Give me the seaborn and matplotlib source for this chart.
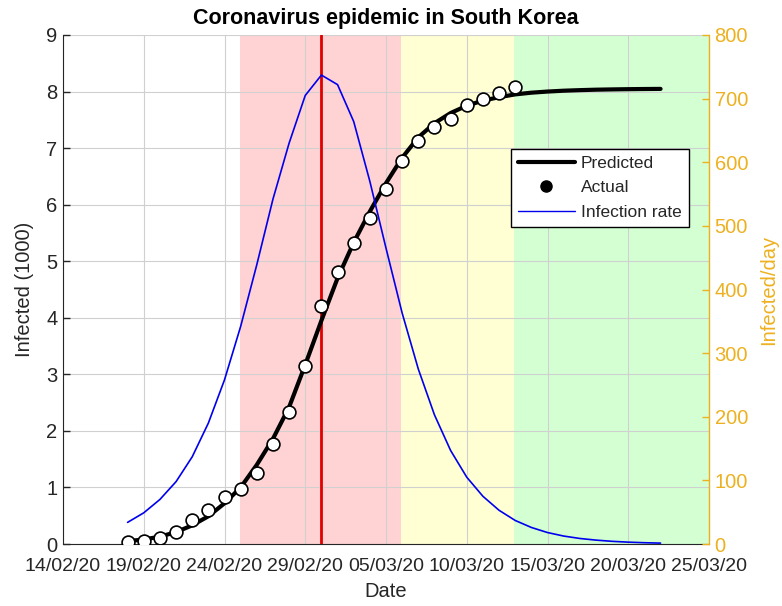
import numpy as np
import pandas as pd
import matplotlib
matplotlib.use("Agg")
import matplotlib.pyplot as plt
import seaborn as sns
from matplotlib.lines import Line2D

# ---------------- data ----------------
start_date = pd.Timestamp("2020-02-14")
tick_labels = ["14/02/20", "19/02/20", "24/02/20", "29/02/20", "05/03/20",
               "10/03/20", "15/03/20", "20/03/20", "25/03/20"]

actual_dates = pd.date_range("2020-02-18", "2020-03-13")
actual_k = [0.031, 0.058, 0.104, 0.204, 0.433, 0.602, 0.833, 0.977, 1.261,
            1.766, 2.337, 3.150, 4.212, 4.812, 5.328, 5.766, 6.284, 6.767,
            7.134, 7.382, 7.513, 7.755, 7.869, 7.979, 8.086]

model_dates = pd.date_range("2020-02-18", "2020-03-22")
predicted_k = [0.05, 0.08, 0.13, 0.21, 0.33, 0.49, 0.72, 1.00, 1.40, 1.86,
               2.42, 3.17, 3.95, 4.70, 5.33, 5.88, 6.38, 6.83, 7.19, 7.44,
               7.62, 7.75, 7.84, 7.90, 7.95, 7.98, 8.00, 8.015, 8.025, 8.033,
               8.038, 8.042, 8.045, 8.047]
infection_rate = [34, 49, 70, 98, 137, 190, 258, 342, 439, 542, 630, 705, 737,
                  722, 664, 570, 465, 363, 275, 203, 147, 105, 75, 53, 37, 26,
                  18, 12.5, 8.7, 6.1, 4.2, 2.9, 2.0, 1.4]

peak_date = pd.Timestamp("2020-03-01")
phase_bounds = [pd.Timestamp("2020-02-24 23:00"), pd.Timestamp("2020-03-05 22:00"),
                pd.Timestamp("2020-03-12 22:00"), pd.Timestamp("2020-03-25")]
phase_colors = ["#ffd3d3", "#ffffd3", "#d3ffd3"]


def days(d):
    return (pd.to_datetime(d) - start_date) / pd.Timedelta(days=1)


actual_df = pd.DataFrame({"day": days(actual_dates), "value": actual_k})
model_df = pd.DataFrame({"day": days(model_dates), "pred": predicted_k,
                         "rate": infection_rate})

# ---------------- style ----------------
sns.set_style("white")
plt.rcParams["font.family"] = ["Liberation Sans", "DejaVu Sans"]
dark = "#262626"
gold = "#EDB120"

fig = plt.figure(figsize=(7.82, 6.06), dpi=100)
ax = fig.add_axes([63 / 782, 1 - 544 / 606, 646 / 782, 509 / 606])
ax2 = ax.twinx()

# shaded phases
for i, c in enumerate(phase_colors):
    ax.axvspan(days(phase_bounds[i]), days(phase_bounds[i + 1]), color=c,
               lw=0, zorder=-1)

# grid
ax.set_axisbelow(True)
ax.grid(True, color="#d0d0d0", lw=0.8)

# red peak line
ax.axvline(days(peak_date), color="#e00000", lw=2, zorder=3)

sns.lineplot(data=model_df, x="day", y="pred", ax=ax, color="black", lw=3,
             zorder=4, legend=False)
sns.scatterplot(data=actual_df, x="day", y="value", ax=ax, s=85,
                facecolor="white", edgecolor="black", linewidth=1.2, zorder=5,
                legend=False)
sns.lineplot(data=model_df, x="day", y="rate", ax=ax2, color="#0000ee", lw=1.2,
             legend=False)

# axes limits / ticks
ax.set_xlim(0, 40)
ax.set_ylim(0, 9)
ax2.set_ylim(0, 800)
ax.set_xticks(np.arange(0, 41, 5))
ax.set_xticklabels(tick_labels)
ax.set_yticks(np.arange(0, 10, 1))
ax2.set_yticks(np.arange(0, 801, 100))

ax.tick_params(axis="x", direction="in", length=5, width=1, colors=dark,
               labelsize=14, pad=10)
ax.tick_params(axis="y", direction="in", length=5, width=1, colors=dark,
               labelsize=14.5, pad=4)
ax2.tick_params(axis="y", direction="in", length=5, width=1, colors=gold,
                labelsize=14.5, pad=4)

for a in (ax, ax2):
    a.spines["top"].set_visible(False)
ax.spines["left"].set_color(dark)
ax.spines["bottom"].set_color(dark)
ax.spines["right"].set_visible(False)
ax2.spines["left"].set_visible(False)
ax2.spines["bottom"].set_visible(False)
ax2.spines["right"].set_color(gold)
ax2.spines["right"].set_linewidth(1)

ax.set_xlabel("Date", fontsize=14.5, color=dark, labelpad=5)
ax.set_ylabel("Infected (1000)", fontsize=14.5, color=dark, labelpad=9)
ax2.set_ylabel("Infected/day", fontsize=14.5, color=gold, labelpad=8)
ax.set_title("Coronavirus epidemic in South Korea", fontsize=15.5,
             fontweight="bold", color="black", pad=8)

handles = [Line2D([], [], color="black", lw=3),
           Line2D([], [], color="black", marker="o", ls="none", markersize=8),
           Line2D([], [], color="#0000ee", lw=1)]
leg = ax2.legend(handles, ["Predicted", "Actual", "Infection rate"],
                 loc="upper left", bbox_to_anchor=(0.693, 0.777),
                 fontsize=12.5, frameon=True, fancybox=False, framealpha=1,
                 edgecolor="black", handlelength=3.3, labelspacing=0.55,
                 borderpad=0.4, handletextpad=0.35, borderaxespad=0)
leg.get_frame().set_linewidth(1)

fig.savefig("out.png", dpi=100)
